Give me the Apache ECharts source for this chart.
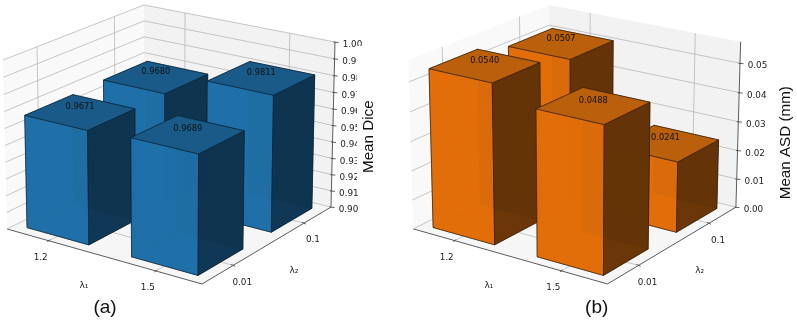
<!DOCTYPE html>
<html>
<head>
<meta charset="utf-8">
<style>
  html, body { margin: 0; background: #fff; }
  #chart { width: 797px; height: 323px; filter: blur(0.45px); }
</style>
<script src="https://cdn.jsdelivr.net/npm/echarts@6/dist/echarts.min.js"></script>
</head>
<body>
<div id="chart"></div>
<script>
const lambda1 = ["1.2", "1.5"];
const lambda2 = ["0.01", "0.1"];

// one array per lambda2 row, in lambda1 order
const diceAt001 = [0.9671, 0.9689];
const diceAt01 = [0.968, 0.9811];
const asdAt001 = [0.054, 0.0488];
const asdAt01 = [0.0507, 0.0241];

const diceTicks = [0.9, 0.91, 0.92, 0.93, 0.94, 0.95, 0.96, 0.97, 0.98, 0.99, 1.0];
const asdTicks = [0, 0.01, 0.02, 0.03, 0.04, 0.05];

const BAR_HALF = 0.3;
const IDX_MIN = -0.41;
const IDX_MAX = 1.41;

// unit box corners the pane outline is fitted to, same order as panel.anchors
const BOX_CORNERS = [
  [0, 0, 0],
  [1, 0, 0],
  [1, 1, 0],
  [0, 0, 1],
  [0, 1, 1],
  [1, 1, 1],
];

// least squares fit of a 3x4 camera matrix with the last entry fixed to 1
const fitCamera = (anchors) => {
  const rows = [];
  const rhs = [];
  BOX_CORNERS.forEach(([x, y, z], k) => {
    const [px, py] = anchors[k];
    rows.push([x, y, z, 1, 0, 0, 0, 0, -px * x, -px * y, -px * z]);
    rhs.push(px);
    rows.push([0, 0, 0, 0, x, y, z, 1, -py * x, -py * y, -py * z]);
    rhs.push(py);
  });
  const n = 11;
  const m = [];
  for (let a = 0; a < n; a++) {
    m[a] = [];
    for (let b = 0; b < n; b++) {
      m[a][b] = rows.reduce((sum, r) => sum + r[a] * r[b], 0);
    }
    m[a][n] = rows.reduce((sum, r, k) => sum + r[a] * rhs[k], 0);
  }
  for (let a = 0; a < n; a++) {
    let best = a;
    for (let r = a + 1; r < n; r++) if (Math.abs(m[r][a]) > Math.abs(m[best][a])) best = r;
    [m[a], m[best]] = [m[best], m[a]];
    for (let r = 0; r < n; r++) {
      if (r === a) continue;
      const f = m[r][a] / m[a][a];
      for (let c = a; c <= n; c++) m[r][c] -= f * m[a][c];
    }
  }
  return m.map((row, a) => row[n] / row[a]);
};

const makeProjection = (panel) => {
  const h = fitCamera(panel.anchors);
  return (x, y, z) => {
    const d = h[8] * x + h[9] * y + h[10] * z + 1;
    return [(h[0] * x + h[1] * y + h[2] * z + h[3]) / d, (h[4] * x + h[5] * y + h[6] * z + h[7]) / d];
  };
};

const GRID = { left: 0, top: 0, width: 400, height: 300 };
const toFracX = (api, idx) => (api.coord([idx, 0])[0] - GRID.left) / GRID.width;
const toFracZ = (api, val) => 1 - (api.coord([0, val])[1] - GRID.top) / GRID.height;

const poly = (points, fill, stroke, lineWidth, opacity) => ({
  type: "polygon",
  silent: true,
  shape: { points },
  style: { fill, stroke, lineWidth: lineWidth || 0, opacity: opacity === undefined ? 1 : opacity },
});
const seg = (a, b, stroke, lineWidth) => ({
  type: "line",
  silent: true,
  shape: { x1: a[0], y1: a[1], x2: b[0], y2: b[1] },
  style: { stroke, lineWidth },
});
const label = (text, x, y, size, family, fill) => ({
  type: "text",
  silent: true,
  x,
  y,
  style: {
    text,
    x: 0,
    y: 0,
    fill: fill || "#222",
    font: `${size}px ${family || "'DejaVu Sans'"}`,
    align: "center",
    verticalAlign: "middle",
  },
});

const buildPanel = (panel, gridIndex) => {
  const proj = makeProjection(panel);
  const base = { type: "custom", xAxisIndex: gridIndex, yAxisIndex: gridIndex, animation: false, clip: false, silent: true };
  const GRIDLINE = "#b8b8b8";
  const AXIS = "#333";

  const walls = {
    ...base,
    z: 1,
    data: [[0]],
    renderItem: () => ({
      type: "group",
      children: [
        poly([proj(0, 0, 0), proj(1, 0, 0), proj(1, 1, 0), proj(0, 1, 0)], "#f6f6f6"),
        poly([proj(0, 0, 0), proj(0, 1, 0), proj(0, 1, 1), proj(0, 0, 1)], "#f9f9f9"),
        poly([proj(0, 1, 0), proj(1, 1, 0), proj(1, 1, 1), proj(0, 1, 1)], "#f2f2f2"),
        seg(proj(0, 0, 0), proj(1, 0, 0), AXIS, 0.8),
        seg(proj(1, 0, 0), proj(1, 1, 0), AXIS, 0.8),
        seg(proj(1, 1, 0), proj(1, 1, 1), AXIS, 0.8),
      ],
    }),
  };

  const zTicks = {
    ...base,
    z: 2,
    data: panel.ticks.map((t) => [t]),
    renderItem: (params, api) => {
      const t = api.value(0);
      const sz = toFracZ(api, t);
      const corner = proj(1, 1, sz);
      return {
        type: "group",
        children: [
          seg(proj(0, 0, sz), proj(0, 1, sz), GRIDLINE, 0.8),
          seg(proj(0, 1, sz), corner, GRIDLINE, 0.8),
          seg([corner[0] - 1.5, corner[1]], [corner[0] + 3.5, corner[1] + 0.5], AXIS, 0.8),
          label(t.toFixed(2), corner[0] + 17.5, corner[1] + 3, 8.8),
        ],
      };
    },
  };

  const catTicks = {
    ...base,
    z: 2,
    data: [0, 1].map((i) => [i]),
    renderItem: (params, api) => {
      const i = api.value(0);
      const s = toFracX(api, i);
      const xTick = proj(s, 0, 0);
      const yTick = proj(1, s, 0);
      return {
        type: "group",
        children: [
          seg(proj(s, 0, 0), proj(s, 1, 0), GRIDLINE, 0.8),
          seg(proj(s, 1, 0), proj(s, 1, 1), GRIDLINE, 0.8),
          seg(proj(0, s, 0), proj(1, s, 0), GRIDLINE, 0.8),
          seg(proj(0, s, 0), proj(0, s, 1), GRIDLINE, 0.8),
          seg([xTick[0] - 1.5, xTick[1] + 1], [xTick[0] + 1.5, xTick[1] - 1], AXIS, 0.8),
          seg([yTick[0] - 2, yTick[1] - 1], [yTick[0] + 2, yTick[1] + 1], AXIS, 0.8),
          label(lambda1[i], xTick[0] - 8, xTick[1] + 17, 8.8),
          label(lambda2[i], yTick[0] + 9, yTick[1] + 17, 8.8),
        ],
      };
    },
  };

  // far row first, left to right, so nearer boxes paint over
  const barRows = [];
  panel.rows.slice().reverse().forEach((row, r) => {
    row.forEach((val, i) => barRows.push([i, panel.rows.length - 1 - r, val]));
  });

  const bars = {
    ...base,
    z: 3,
    data: barRows,
    renderItem: (params, api) => {
      const i = api.value(0);
      const j = api.value(1);
      const val = api.value(2);
      const x0 = toFracX(api, i - BAR_HALF);
      const x1 = toFracX(api, i + BAR_HALF);
      const y0 = toFracX(api, j - BAR_HALF);
      const y1 = toFracX(api, j + BAR_HALF);
      const top = toFracZ(api, val);
      const c = panel.colors;
      const e = panel.edge;
      const op = 0.95;
      return {
        type: "group",
        children: [
          poly([proj(x0, y0, 0), proj(x1, y0, 0), proj(x1, y1, 0), proj(x0, y1, 0)], c.front, e, 0.6, op),
          poly([proj(x0, y0, 0), proj(x0, y1, 0), proj(x0, y1, top), proj(x0, y0, top)], c.front, e, 0.6, op),
          poly([proj(x0, y1, 0), proj(x1, y1, 0), proj(x1, y1, top), proj(x0, y1, top)], c.side, e, 0.6, op),
          poly([proj(x0, y0, 0), proj(x1, y0, 0), proj(x1, y0, top), proj(x0, y0, top)], c.front, e, 0.6, op),
          poly([proj(x1, y0, 0), proj(x1, y1, 0), proj(x1, y1, top), proj(x1, y0, top)], c.side, e, 0.6, op),
          poly([proj(x0, y0, top), proj(x1, y0, top), proj(x1, y1, top), proj(x0, y1, top)], c.top, e, 0.6, 1),
        ],
      };
    },
  };

  const barLabels = {
    ...base,
    z: 5,
    data: barRows,
    renderItem: (params, api) => {
      const s = toFracX(api, api.value(0));
      const t = toFracX(api, api.value(1));
      const val = api.value(2);
      const p = proj(s, t, toFracZ(api, val));
      return label(val.toFixed(4), p[0], p[1] - 5, 8.3, null, "#111");
    },
  };

  return [walls, zTicks, catTicks, bars, barLabels];
};

const dicePanel = {
  anchors: [[7, 229], [202, 284], [331, 207], [3, 60], [144, 5], [335, 42]],
  rows: [diceAt001, diceAt01],
  ticks: diceTicks,
  colors: { front: "#1f70a8", top: "#195a88", side: "#0f3450" },
  edge: "#0a2030",
};
const asdPanel = {
  anchors: [[413.3, 229], [607.3, 284], [736, 207], [408.3, 60], [549, 5], [740.7, 42]],
  rows: [asdAt001, asdAt01],
  ticks: asdTicks,
  colors: { front: "#e26e0a", top: "#ba600c", side: "#643407" },
  edge: "#2e1a05",
};

// plain page level texts and the strip that cuts the tick labels of panel (a)
const pageGraphic = [
  {
    type: "polygon",
    silent: true,
    z: 10,
    z2: 100,
    shape: { points: [[363, 38], [380, 38], [380, 186], [357, 186], [357, 46], [363, 46]] },
    style: { fill: "#fff" },
  },
  ...[
    ["λ₁", 84, 286, 9],
    ["λ₂", 294, 271, 9],
    ["λ₁", 489, 286, 9],
    ["λ₂", 699.7, 271, 9],
  ].map(([text, x, y, size]) => ({
    type: "text",
    silent: true,
    z: 11,
    x,
    y,
    style: { text, fill: "#222", font: `${size}px 'DejaVu Sans'`, align: "center", verticalAlign: "middle" },
  })),
  ...[
    ["(a)", 105, 308],
    ["(b)", 596.7, 308],
  ].map(([text, x, y]) => ({
    type: "text",
    silent: true,
    z: 11,
    x,
    y,
    style: { text, fill: "#111", font: "19px 'Liberation Sans'", align: "center", verticalAlign: "middle" },
  })),
  ...[
    ["Mean Dice", 369, 136.7],
    ["Mean ASD (mm)", 785.7, 142.7],
  ].map(([text, x, y]) => ({
    type: "text",
    silent: true,
    z: 11,
    x,
    y,
    rotation: Math.PI / 2,
    style: { text, fill: "#111", font: "15.2px 'Liberation Sans'", align: "center", verticalAlign: "middle" },
  })),
];

const hiddenAxis = (min, max, gridIndex) => ({ type: "value", min, max, show: false, gridIndex });

const chart = echarts.init(document.getElementById("chart"));
chart.setOption({
  backgroundColor: "#fff",
  animation: false,
  grid: [GRID, GRID],
  xAxis: [hiddenAxis(IDX_MIN, IDX_MAX, 0), hiddenAxis(IDX_MIN, IDX_MAX, 1)],
  yAxis: [hiddenAxis(0.9, 1.0, 0), hiddenAxis(0, 0.0572, 1)],
  graphic: pageGraphic,
  series: [...buildPanel(dicePanel, 0), ...buildPanel(asdPanel, 1)],
});
</script>
</body>
</html>
